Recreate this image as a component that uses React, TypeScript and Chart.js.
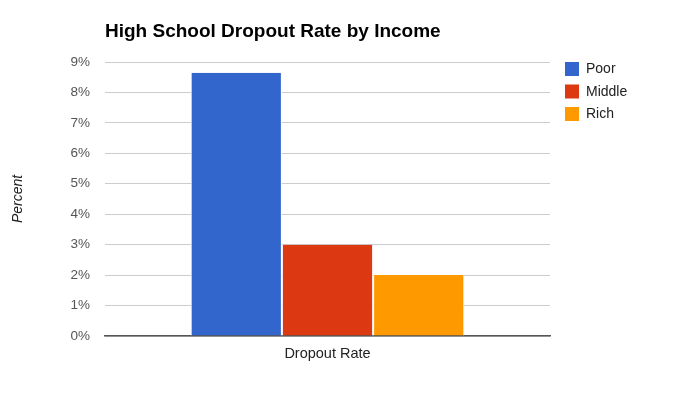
import React, { useEffect, useRef } from "react";
import { Chart, registerables } from "chart.js";

Chart.register(...registerables);

const categories = ["Dropout Rate"];
const seriesNames = ["Poor", "Middle", "Rich"];
const poorValues = [8.65];
const middleValues = [3.0];
const richValues = [2.0];
const seriesColors = ["#3366cc", "#dc3912", "#ff9900"];
const yTicks = [0, 1, 2, 3, 4, 5, 6, 7, 8, 9];
const titleText = "High School Dropout Rate by Income";
const yAxisTitle = "Percent";

const FONT = "Arial, 'Liberation Sans', sans-serif";

const overlayPlugin = {
  id: "overlay",
  afterDraw(chart: any) {
    const ctx = chart.ctx;
    const area = chart.chartArea;
    ctx.save();
    // title
    ctx.font = `bold 19px ${FONT}`;
    ctx.fillStyle = "#000";
    ctx.textAlign = "left";
    ctx.textBaseline = "alphabetic";
    ctx.fillText(titleText, area.left, 37);
    // legend
    const lx = area.right + 15;
    chart.data.datasets.forEach((ds: any, i: number) => {
      const y = 62 + i * 22.5;
      ctx.fillStyle = ds.backgroundColor;
      ctx.fillRect(lx, y, 14, 14);
      ctx.fillStyle = "#222";
      ctx.font = `14px ${FONT}`;
      ctx.textBaseline = "middle";
      ctx.fillText(ds.label, lx + 21, y + 7.5);
    });
    ctx.restore();
  },
};

export default function App() {
  const ref = useRef<HTMLCanvasElement | null>(null);
  useEffect(() => {
    if (!ref.current) return;
    const values = [poorValues, middleValues, richValues];
    const chart = new Chart(ref.current, {
      type: "bar",
      data: {
        labels: categories,
        datasets: seriesNames.map((name, i) => ({
          label: name,
          data: values[i],
          backgroundColor: seriesColors[i],
          borderColor: "#ffffff",
          borderWidth: { left: 1, right: 1, top: 0, bottom: 0 },
          categoryPercentage: 0.615,
          barPercentage: 1,
        })),
      },
      options: {
        animation: false,
        responsive: false,
        maintainAspectRatio: false,
        layout: { padding: { top: 62, right: 144, bottom: 0, left: 0 } },
        plugins: {
          legend: { display: false },
          title: { display: false },
          tooltip: { enabled: false },
        },
        scales: {
          x: {
            afterFit: (s: any) => {
              s.height = 58;
            },
            grid: { display: false, drawTicks: false },
            border: { display: true, color: "#555", width: 1.5 },
            ticks: {
              padding: 9,
              color: "#222",
              font: { family: FONT, size: 14.5 },
            },
          },
          y: {
            min: 0,
            max: 9,
            afterFit: (s: any) => {
              s.width = 105;
            },
            afterBuildTicks: (s: any) => {
              s.ticks = yTicks.map((v) => ({ value: v }));
            },
            grid: { color: "#cccccc", drawTicks: false, lineWidth: 1 },
            border: { display: false },
            ticks: {
              padding: 15,
              color: "#555",
              font: { family: FONT, size: 13.5 },
              callback: (v: any) => `${v}%`,
            },
            title: {
              display: true,
              text: yAxisTitle,
              color: "#222",
              padding: { top: 10, bottom: 0 },
              font: { family: FONT, size: 14, style: "italic" },
            },
          },
        },
      },
      plugins: [overlayPlugin],
    });
    return () => chart.destroy();
  }, []);
  return (
    <div style={{ position: "fixed", left: 0, top: 0, width: 694, height: 394, background: "#fff" }}>
      <canvas ref={ref} width={694} height={394} style={{ width: 694, height: 394 }} />
    </div>
  );
}
